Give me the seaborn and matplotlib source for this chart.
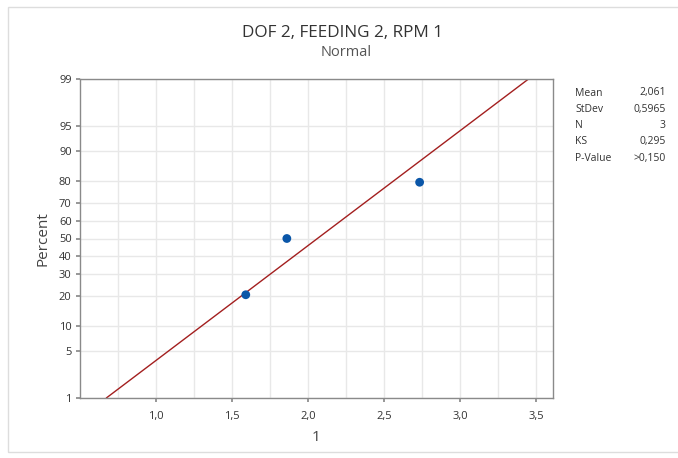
import numpy as np
import pandas as pd
import matplotlib
matplotlib.use("Agg")
import matplotlib.pyplot as plt
import seaborn as sns
from statistics import NormalDist

# ---- data ----
obs_x = [1.59, 1.86, 2.733]
obs_pct = [20.6, 50.0, 79.4]
fit_x = [0.673, 3.449]
fit_pct = [1.0, 99.0]
y_ticks_pct = [1, 5, 10, 20, 30, 40, 50, 60, 70, 80, 90, 95, 99]
x_ticks = [1.0, 1.5, 2.0, 2.5, 3.0, 3.5]
x_grid = [0.75, 1.0, 1.25, 1.5, 1.75, 2.0, 2.25, 2.5, 2.75, 3.0, 3.25, 3.5]
stat_names = ["Mean", "StDev", "N", "KS", "P-Value"]
stat_values = ["2,061", "0,5965", "3", "0,295", ">0,150"]
title = "DOF 2, FEEDING 2, RPM 1"
subtitle = "Normal"
x_label = "1"
y_label = "Percent"

nd = NormalDist()
def probit(p):
    return nd.inv_cdf(p / 100.0)

sns.set_theme(style="white")
plt.rcParams["font.family"] = ["Open Sans", "DejaVu Sans"]

fig = plt.figure(figsize=(6.78, 4.58), dpi=100)
ax = fig.add_axes([80 / 678, 1 - 398 / 458, (553 - 80) / 678, (398 - 79) / 458])

pts = pd.DataFrame({"x": obs_x, "z": [probit(p) for p in obs_pct]})
fit = pd.DataFrame({"x": fit_x, "z": [probit(p) for p in fit_pct]})

grid_c = "#e8e8e8"
for gx in x_grid:
    ax.axvline(gx, color=grid_c, lw=1, zorder=0)
for t in y_ticks_pct:
    ax.axhline(probit(t), color=grid_c, lw=1, zorder=0)

sns.lineplot(data=fit, x="x", y="z", ax=ax, color="#a31f1f", lw=1.0, zorder=2)
sns.scatterplot(data=pts, x="x", y="z", ax=ax, color="#0a56a8", s=40,
                edgecolor="none", zorder=3)

ax.set_xlim(0.5, 3.61)
ax.set_ylim(probit(1), probit(99))
ax.set_xticks(x_ticks)
ax.set_xticklabels([f"{v:.1f}".replace(".", ",") for v in x_ticks])
ax.set_yticks([probit(t) for t in y_ticks_pct])
ax.set_yticklabels([str(t) for t in y_ticks_pct])
ax.minorticks_off()

for s in ax.spines.values():
    s.set_color("#8a8a8a")
    s.set_linewidth(1)
ax.tick_params(axis="both", which="major", direction="out", length=3,
               color="#8a8a8a", labelsize=8, labelcolor="#333333", pad=3,
               bottom=True, left=True)
ax.tick_params(axis="x", which="major", pad=6)

ax.set_xlabel(x_label, fontsize=11, color="#444444", labelpad=6)
ax.set_ylabel(y_label, fontsize=11, color="#444444", labelpad=6)

fig.text(342 / 678, 1 - 33 / 458, title, ha="center", va="center",
         fontsize=12.3, color="#333333")
fig.text(346 / 678, 1 - 52 / 458, subtitle, ha="center", va="center",
         fontsize=10.5, color="#555555")

for i, (n, v) in enumerate(zip(stat_names, stat_values)):
    yy = 1 - (93 + i * 16.3) / 458
    fig.text(575 / 678, yy, n, ha="left", va="center", fontsize=7.5, color="#333333")
    fig.text(666 / 678, yy, v, ha="right", va="center", fontsize=7.5, color="#333333")

# outer light frame
frame = plt.Rectangle((8 / 678, 1 - 452 / 458), 1.2, 445 / 458,
                      transform=fig.transFigure, fill=False,
                      edgecolor="#dddddd", lw=1)
fig.patches.append(frame)

fig.savefig("out.png", dpi=100)
